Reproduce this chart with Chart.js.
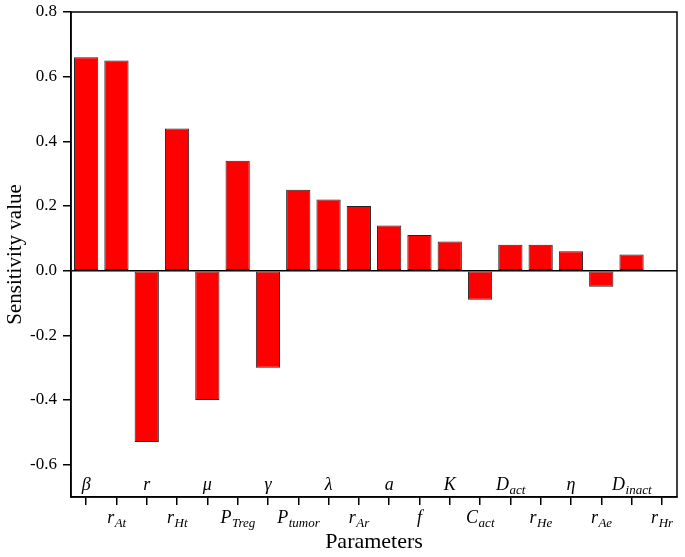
<!DOCTYPE html>
<html><head><meta charset="utf-8">
<script src="https://cdn.jsdelivr.net/npm/chart.js@4"></script>
<style>html,body{margin:0;padding:0;background:#fff}#wrap{width:685px;height:557px;position:relative}</style>
</head><body><div id="wrap"><canvas id="c"></canvas></div>
<script>
const paramMain = ['β','r','r','r','μ','P','γ','P','λ','r','a','f','K','C','D','r','η','r','D','r'];
const paramSub  = ['','At','','Ht','','Treg','','tumor','','Ar','','','','act','act','He','','Ae','inact','Hr'];
const sensitivity = [0.66,0.65,-0.53,0.44,-0.40,0.34,-0.30,0.25,0.22,0.20,0.14,0.11,0.09,-0.09,0.08,0.08,0.06,-0.05,0.05,-0.003];
const yTickValues = [-0.6,-0.4,-0.2,0.0,0.2,0.4,0.6,0.8];
const yMin = -0.7, yMax = 0.8;
const categories = paramMain.map((m,i)=>m+(paramSub[i]?'_'+paramSub[i]:''));

const SERIF = '"Liberation Serif","Times New Roman",serif';

const paramLabels = {
  id:'paramLabels',
  afterDraw(chart){
    const ctx = chart.ctx, xs = chart.scales.x, ca = chart.chartArea;
    ctx.save();
    ctx.fillStyle = '#000';
    ctx.textBaseline = 'alphabetic';
    ctx.textAlign = 'left';
    ctx.strokeStyle = '#000'; ctx.lineWidth = 1.5;
    ctx.strokeRect(ca.left, ca.top, ca.right-ca.left, ca.bottom-ca.top);
    paramMain.forEach((m,i)=>{
      const x = xs.getPixelForValue(i);
      const above = i % 2 === 0;
      const base = above ? ca.bottom - 7 : ca.bottom + 26;
      ctx.font = 'italic 18px ' + SERIF;
      const w1 = ctx.measureText(m).width;
      const sub = paramSub[i];
      ctx.font = 'italic 13px ' + SERIF;
      const w2 = sub ? ctx.measureText(sub).width : 0;
      const start = x - (w1 + w2)/2;
      ctx.font = 'italic 18px ' + SERIF;
      ctx.fillText(m, start, base);
      if (sub){ ctx.font = 'italic 13px ' + SERIF; ctx.fillText(sub, start + w1 + 0.5, base + 4); }
    });
    ctx.restore();
  }
};

new Chart(document.getElementById('c'), {
  type:'bar',
  data:{ labels: categories, datasets:[{ data: sensitivity, backgroundColor:'#ff0000', borderColor:'#222222', borderWidth:1, borderSkipped:false, categoryPercentage:1, barPercentage:0.8 }]},
  options:{
    responsive:true, maintainAspectRatio:false, animation:false, devicePixelRatio:1,
    layout:{ padding:{ top:12, right:8, left:0, bottom:0 } },
    plugins:{ legend:{display:false}, tooltip:{enabled:false} },
    scales:{
      x:{
        offset:true,
        grid:{ offset:false, drawOnChartArea:false, drawTicks:true, tickLength:8, color:'#000', lineWidth:1.5 },
        border:{ display:true, color:'#000', width:1.5 },
        ticks:{ display:false },
        title:{ display:true, text:'Parameters', font:{ family:SERIF, size:22 }, color:'#000', padding:{top:0,bottom:2} },
        afterFit(s){ s.height = 60; }
      },
      y:{
        min:yMin, max:yMax,
        afterBuildTicks(s){ s.ticks = yTickValues.map(v=>({value:v})); },
        grid:{ drawOnChartArea:true, drawTicks:true, tickLength:8, lineWidth:1.5,
               color:c=> (c.tick && Math.abs(c.tick.value) < 1e-9) ? '#000' : 'rgba(0,0,0,0)', tickColor:'#000' },
        border:{ display:true, color:'#000', width:1.5 },
        ticks:{ color:'#000', font:{ family:SERIF, size:17 }, padding:6, callback:v=>Number(v).toFixed(1) },
        title:{ display:true, text:'Sensitivity value', font:{ family:SERIF, size:21 }, color:'#000', padding:{top:3,bottom:0} },
        afterFit(s){ s.width = 71; s.paddingTop = 0; s.paddingBottom = 0; }
      }
    }
  },
  plugins:[paramLabels]
});
</script></body></html>
